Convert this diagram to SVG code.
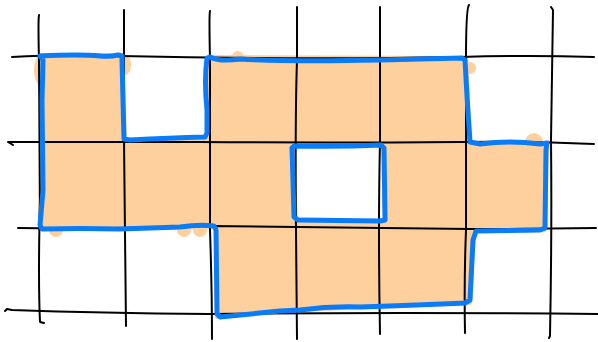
<svg xmlns="http://www.w3.org/2000/svg" width="598" height="342" viewBox="0 0 598 342">
<style>
.fill{fill:#fdd09d;stroke:#fdd09d;stroke-width:4;stroke-linejoin:round}
.grid path{fill:none;stroke:#000;stroke-width:2;stroke-linecap:round;stroke-linejoin:round}
.outline{fill:none;stroke:#0a7cf8;stroke-width:5;stroke-linecap:round;stroke-linejoin:round}
</style>
<rect width="598" height="342" fill="#fff"/>
<g id="fill">
<path class="fill" fill-rule="evenodd" d="M40,55 L122,55 L125,141 L207,138 L208,57 L466,58 L470,143 L547,143 L545,230 L474,231 L470,303 L297,310 L217,317 L216,227 L40,229 Z M292,146 L383,145 L385,222 L296,219 Z"/>
<ellipse class="fill" cx="42" cy="70" rx="6" ry="14"/>
<ellipse class="fill" cx="125" cy="65" rx="4" ry="8"/>
<circle class="fill" cx="56" cy="230" r="5"/>
<circle class="fill" cx="184" cy="230" r="5"/>
<circle class="fill" cx="200" cy="230" r="5"/>
<circle class="fill" cx="534" cy="142" r="7"/>
<circle class="fill" cx="470" cy="68" r="4"/>
<circle class="fill" cx="238" cy="57" r="4"/>
</g>
<g id="grid" class="grid">
<path d="M39,15 Q38,20 39,60 L40,200 Q38,280 40,322 L44,323"/>
<path d="M124,10 L124,140 Q125,230 126,326"/>
<path d="M210,11 Q209,14 210,60 L210,230 Q212,290 212,339"/>
<path d="M297,7 L297,60 Q295,120 296,230 L297,339"/>
<path d="M380,7 L380,140 Q378,230 380,334"/>
<path d="M469,5 Q466,8 466,60 L466,230 Q464,280 465,333"/>
<path d="M551,7 L553,10 L551,140 Q552,230 550,336 L549,338"/>
<path d="M12,57 Q60,54 120,56 Q300,60 460,57 Q530,55 594,57"/>
<path d="M13,145 L8,142 Q100,142 200,142 Q320,143 460,142 Q530,141 594,144"/>
<path d="M18,228 Q100,229 210,226 Q300,227 470,229 Q530,229 596,228"/>
<path d="M5,311 L7,309 L12,310 Q100,313 210,314 Q400,312 598,314"/>
</g>
<g id="outline" class="outline">
<path d="M40,56 Q80,54 100,56 Q110,57 118,55 L122,56 L122,60 L124,139 L130,140 Q170,138 205,137 L207,133 L207,110 Q204,80 207,58 L210,57 Q220,62 240,59 Q290,62 380,60 L462,58 L465,60 Q467,100 470,142 L480,144 Q510,140 540,144 L547,143 L546,150 L545,228 L540,230 L476,231 L473,240 L470,300 L465,303 Q420,305 360,307 Q330,306 300,310 L280,311 Q250,314 220,317 L217,314 L216,230 L214,226 Q200,224 180,227 L120,229 Q80,228 42,229 L40,225 L43,190 L42,100 L43,60 Z"/>
<path d="M292,148 L294,146 Q340,147 381,145 L384,148 L385,220 L380,221 L298,220 L294,217 L293,180 Z"/>
</g>
</svg>
